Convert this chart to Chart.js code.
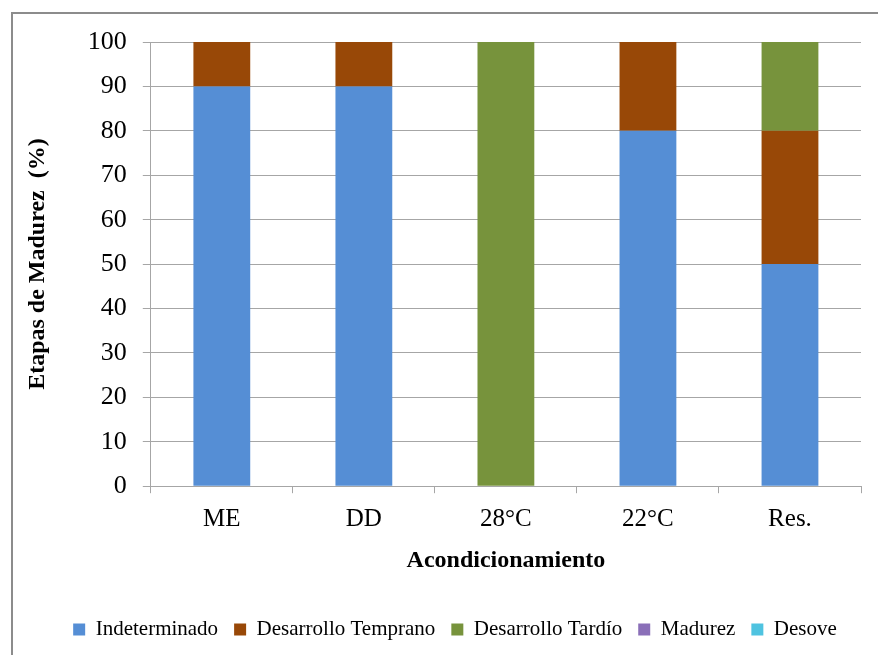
<!DOCTYPE html>
<html>
<head>
<meta charset="utf-8">
<script src="https://cdn.jsdelivr.net/npm/chart.js@4"></script>
<style>
  html, body { margin: 0; padding: 0; background: #fff; }
  #wrap { width: 878px; height: 655px; position: relative; }
</style>
</head>
<body>
<div id="wrap"><canvas id="myChart" width="878" height="655"></canvas></div>
<script>
const categories = ['ME', 'DD', '28°C', '22°C', 'Res.']
const indeterminado = [90, 90, 0, 80, 50]
const desarrolloTemprano = [10, 10, 0, 20, 30]
const desarrolloTardio = [0, 0, 100, 0, 20]
const madurez = [0, 0, 0, 0, 0]
const desove = [0, 0, 0, 0, 0]

const serif = "'Liberation Serif', 'DejaVu Serif', serif"

// grey frame around the whole chart, as in the original
const frame = {
  id: 'frame',
  beforeDraw (chart) {
    const ctx = chart.ctx
    ctx.save()
    ctx.fillStyle = '#fff'
    ctx.fillRect(0, 0, chart.width, chart.height)
    ctx.strokeStyle = '#8c8c8c'
    ctx.lineWidth = 2
    ctx.strokeRect(12, 13, 900, 700)
    ctx.restore()
  },
  // legend sits a bit right of centre in the original
  afterLayout (chart) {
    if (chart.legend) chart.legend.left += 30
  }
}

const ctx = document.getElementById('myChart').getContext('2d')
new Chart(ctx, {
  type: 'bar',
  data: {
    labels: categories,
    datasets: [
      { label: 'Indeterminado', data: indeterminado, backgroundColor: '#558ed5' },
      { label: 'Desarrollo Temprano', data: desarrolloTemprano, backgroundColor: '#984807' },
      { label: 'Desarrollo Tardío', data: desarrolloTardio, backgroundColor: '#77933c' },
      { label: 'Madurez', data: madurez, backgroundColor: '#8a6fb8' },
      { label: 'Desove', data: desove, backgroundColor: '#4fc3e0' }
    ]
  },
  options: {
    responsive: false,
    animation: false,
    layout: { padding: { left: 19, right: 17, top: 42, bottom: 5 } },
    datasets: { bar: { barPercentage: 0.8, categoryPercentage: 0.5 } },
    plugins: {
      legend: {
        position: 'bottom',
        labels: {
          boxWidth: 12,
          boxHeight: 12,
          padding: 16,
          color: '#000',
          font: { family: serif, size: 21 }
        }
      },
      tooltip: { enabled: false }
    },
    scales: {
      x: {
        stacked: true,
        grid: { display: true, drawOnChartArea: false, color: '#a6a6a6', tickLength: 7, offset: true },
        border: { color: '#a6a6a6' },
        ticks: { color: '#000', font: { family: serif, size: 25 }, padding: 11 },
        title: {
          display: true,
          text: 'Acondicionamiento',
          color: '#000',
          font: { family: serif, size: 24, weight: 'bold' },
          padding: { top: 1, bottom: 28 }
        }
      },
      y: {
        stacked: true,
        min: 0,
        max: 100,
        ticks: { stepSize: 10, color: '#000', font: { family: serif, size: 26 }, padding: 16 },
        grid: { color: '#a6a6a6', tickLength: 8 },
        border: { color: '#a6a6a6' },
        title: {
          display: true,
          text: 'Etapas de Madurez  (%)',
          color: '#000',
          font: { family: serif, size: 24, weight: 'bold' },
          padding: { bottom: 20 }
        }
      }
    }
  },
  plugins: [frame]
})
</script>
</body>
</html>
